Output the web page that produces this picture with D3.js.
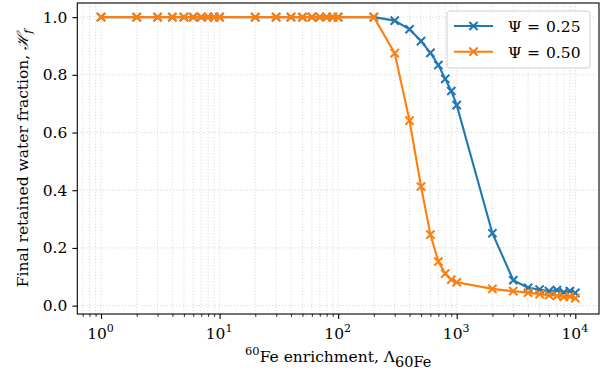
<!DOCTYPE html>
<html><head><meta charset="utf-8">
<script src="https://cdn.jsdelivr.net/npm/d3@7"></script>
<style>
body{margin:0;background:#fff;}
text{font-family:"DejaVu Serif","Liberation Serif",serif;}
</style></head>
<body><svg id="c" width="605" height="380"></svg>
<script>
const xValues = [1,2,3,4,5,6,7,8,9,10,20,30,40,50,60,70,80,90,100,200,300,400,500,600,700,800,900,1000,2000,3000,4000,5000,6000,7000,8000,9000,10000];
const psi025 = [1,1,1,1,1,1,1,1,1,1,1,1,1,1,1,1,1,1,1,1,0.988,0.958,0.917,0.876,0.834,0.786,0.744,0.695,0.251,0.088,0.062,0.056,0.050,0.054,0.046,0.050,0.044];
const psi050 = [1,1,1,1,1,1,1,1,1,1,1,1,1,1,1,1,1,1,1,1,0.875,0.641,0.413,0.246,0.153,0.111,0.090,0.081,0.058,0.050,0.045,0.040,0.036,0.034,0.030,0.032,0.026];
const seriesPsi = ["0.25","0.50"];
const seriesColors = ["#1f77b4","#ff7f0e"];
const yTicks = [0.0,0.2,0.4,0.6,0.8,1.0];
const xMajor = [1,10,100,1000,10000];

const FS = 15.5;
const svg = d3.select("#c");
const L=77.3, R=599, T=3, B=314;
const x = d3.scaleLog().domain([Math.pow(10,-0.2), Math.pow(10,4.2)]).range([L,R]);
const y = d3.scaleLinear().domain([-0.029,1.049]).range([B,T]);

const xMinor=[];
for(let e=-1;e<=4;e++){for(let m=2;m<=9;m++){const v=m*Math.pow(10,e); if(v>=x.domain()[0]&&v<=x.domain()[1]) xMinor.push(v);}}

// grid
const grid = svg.append("g").attr("stroke","#b0b0b0").attr("stroke-width",0.8).attr("stroke-dasharray","1,2.2").attr("opacity",0.7);
xMinor.concat(xMajor).forEach(v=>grid.append("line").attr("x1",x(v)).attr("x2",x(v)).attr("y1",T).attr("y2",B));
yTicks.forEach(v=>grid.append("line").attr("x1",L).attr("x2",R).attr("y1",y(v)).attr("y2",y(v)));

// lines
const data=[psi025,psi050];
const line=d3.line().x((d,i)=>x(xValues[i])).y(d=>y(d));
const xs=4.1;
data.forEach((s,k)=>{
  const g=svg.append("g");
  g.append("path").attr("d",line(s)).attr("fill","none").attr("stroke",seriesColors[k]).attr("stroke-width",2.1).attr("stroke-linejoin","round");
  g.selectAll("path.m").data(s).enter().append("path").attr("class","m")
    .attr("d",(d,i)=>{const cx=x(xValues[i]),cy=y(d);return `M${cx-xs},${cy-xs}L${cx+xs},${cy+xs}M${cx-xs},${cy+xs}L${cx+xs},${cy-xs}`;})
    .attr("stroke",seriesColors[k]).attr("stroke-width",2.1).attr("fill","none");
});

// frame
svg.append("rect").attr("x",L).attr("y",T).attr("width",R-L).attr("height",B-T).attr("fill","none").attr("stroke","#000").attr("stroke-width",1.1);

// x axis
const xAxis = svg.append("g").attr("transform",`translate(0,${B})`)
  .call(d3.axisBottom(x).tickValues(xMajor).tickSize(4.9).tickPadding(5).tickFormat(""));
xAxis.select(".domain").remove();
xAxis.selectAll(".tick line").attr("stroke-width",1.1);
xAxis.selectAll(".tick").each(function(d){
  const t=d3.select(this).append("text").attr("y",25).attr("x",-1).attr("fill","#000").attr("text-anchor","middle").attr("font-size",FS);
  t.append("tspan").text("10");
  t.append("tspan").attr("dy",-7).attr("font-size",11).text(Math.round(Math.log10(d)));
});
const xAxisMinor = svg.append("g").attr("transform",`translate(0,${B})`)
  .call(d3.axisBottom(x).tickValues(xMinor).tickSize(2.8).tickFormat(""));
xAxisMinor.select(".domain").remove();
xAxisMinor.selectAll(".tick line").attr("stroke-width",0.85);

// y axis
const yAxis = svg.append("g").attr("transform",`translate(${L},0)`)
  .call(d3.axisLeft(y).tickValues(yTicks).tickSize(4.9).tickPadding(5).tickFormat(d3.format(".1f")));
yAxis.select(".domain").remove();
yAxis.selectAll(".tick line").attr("stroke-width",1.1);
yAxis.selectAll(".tick text").attr("font-size",FS).attr("fill","#000").attr("font-family","DejaVu Serif");

// axis labels
const xl = svg.append("text").attr("x",(L+R)/2).attr("y",362).attr("text-anchor","middle").attr("font-size",FS);
xl.append("tspan").attr("dy",-7).attr("font-size",11.5).text("60");
xl.append("tspan").attr("dy",7).text("Fe enrichment, \u039B");
xl.append("tspan").attr("dy",5).attr("font-size",14.5).text("60Fe");

const yl = svg.append("text").attr("transform",`translate(28,${(T+B)/2}) rotate(-90)`).attr("text-anchor","middle").attr("font-size",FS);
yl.append("tspan").text("Final retained water fraction, ");
yl.append("tspan").attr("font-style","italic").text("\u210B");
yl.append("tspan").attr("dy",4).attr("font-size",11).attr("font-style","italic").text("f");

// legend
const lg = svg.append("g");
lg.append("rect").attr("x",447).attr("y",11).attr("width",143).attr("height",57).attr("rx",3).attr("fill","#fff").attr("fill-opacity",0.8).attr("stroke","#d0d0d0").attr("stroke-width",1);
seriesPsi.forEach((n,k)=>{
  const yy=26+k*25.7;
  lg.append("line").attr("x1",454).attr("x2",493).attr("y1",yy).attr("y2",yy).attr("stroke",seriesColors[k]).attr("stroke-width",2.1);
  const cx=473.5;
  lg.append("path").attr("d",`M${cx-xs},${yy-xs}L${cx+xs},${yy+xs}M${cx-xs},${yy+xs}L${cx+xs},${yy-xs}`).attr("stroke",seriesColors[k]).attr("stroke-width",2.1);
  lg.append("text").attr("x",508).attr("y",yy+6).attr("font-size",FS).text("\u03A8");
  lg.append("text").attr("x",527).attr("y",yy+6).attr("font-size",FS).text("=");
  lg.append("text").attr("x",546).attr("y",yy+6).attr("font-size",FS).text(n);
});
</script></body></html>
